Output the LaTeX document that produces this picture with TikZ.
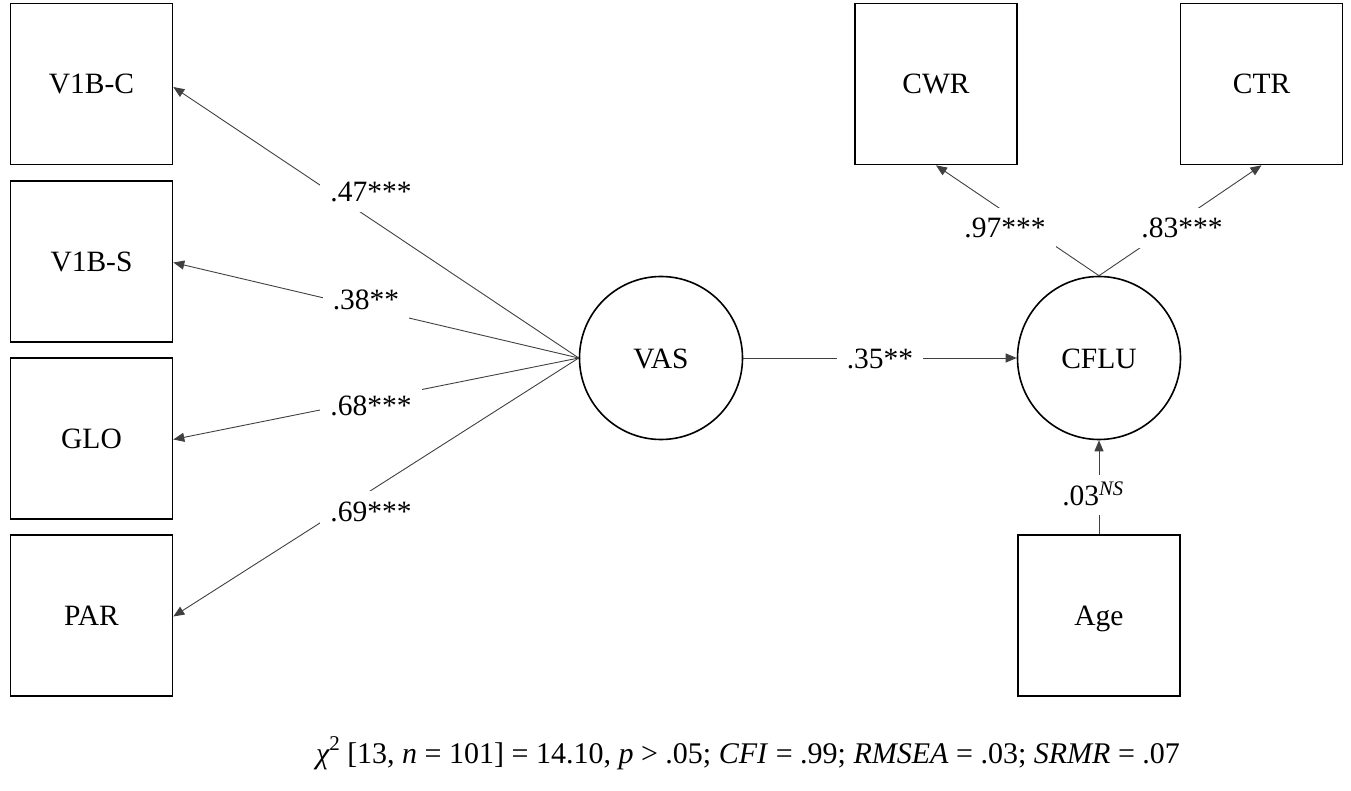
\documentclass[tikz,border=0pt]{standalone}
\usepackage{fontspec}
\setmainfont{Liberation Serif}
\usetikzlibrary{arrows.meta}
\begin{document}
\begin{tikzpicture}[x=1pt,y=-1pt,
  box/.style={draw=black,line width=1.6pt,minimum width=162pt,minimum height=161pt,inner sep=0pt,text height=20pt,text depth=0pt,font=\fontsize{29.5}{31}\selectfont},
  lat/.style={draw=black,line width=1.6pt,circle,minimum size=163pt,inner sep=0pt,text height=20pt,text depth=0pt,font=\fontsize{29.5}{31}\selectfont},
  path/.style={draw=black!75,line width=0.9pt,-{Triangle[length=11pt,width=9pt]}},
  lbl/.style={fill=white,inner xsep=10pt,inner ysep=10pt,text height=20pt,text depth=0pt,font=\fontsize{29.5}{31}\selectfont}]
\useasboundingbox (0,0) rectangle (1351,791);
\node[box] (v1bc) at (91.5,84) {V1B-C};
\node[box] (v1bs) at (91.5,261.5) {V1B-S};
\node[box] (glo) at (91.5,438.5) {GLO};
\node[box] (par) at (91.5,615.5) {PAR};
\node[box] (cwr) at (936,84) {CWR};
\node[box] (ctr) at (1261.5,84) {CTR};
\node[box] (age) at (1099,615.5) {Age};
\node[lat] (vas) at (661,358) {VAS};
\node[lat] (cflu) at (1099,358) {CFLU};
\draw[path] (vas.west) -- ([yshift=-3pt]v1bc.east);
\draw[path] (vas.west) -- ([yshift=-1pt]v1bs.east);
\draw[path] (vas.west) -- ([yshift=-1pt]glo.east);
\draw[path] (vas.west) -- ([yshift=-1pt]par.east);
\draw[path] (vas.east) -- (cflu.west);
\draw[path] (cflu.north) -- (cwr.south);
\draw[path] (cflu.north) -- (ctr.south);
\draw[path] (age.north) -- (cflu.south);
\node[lbl] (l1) at (371,192) {.47***};
\node[lbl] (l2) at (366,300) {.38**};
\node[lbl] (l3) at (371,405) {.68***};
\node[lbl] (l4) at (371,511) {.69***};
\node[lbl] (l5) at (880,358) {.35**};
\node[lbl] (l6) at (1005,228) {.97***};
\node[lbl] (l7) at (1182,228) {.83***};
\node[lbl] (l8) at (1093,495) {.03\textsuperscript{\itshape NS}};
\node[font=\fontsize{30}{32}\selectfont] (fit) at (748,753) {{\itshape χ}\raisebox{0.42em}{\fontsize{21}{21}\selectfont 2} [13, \textit{n} = 101] = 14.10, \textit{p} > .05; \textit{CFI} = .99; \textit{RMSEA} = .03; \textit{SRMR} = .07};
\end{tikzpicture}
\end{document}
